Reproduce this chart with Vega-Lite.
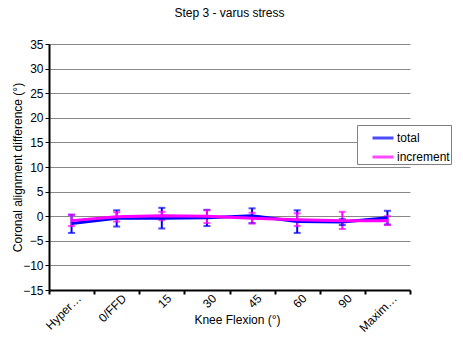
{
  "$schema": "https://vega.github.io/schema/vega-lite/v6.json",
  "width": 361,
  "height": 246,
  "autosize": {"type": "none"},
  "padding": {"left": 49, "top": 44, "right": 53, "bottom": 54},
  "background": "white",
  "title": {"text": "Step 3 - varus stress", "font": "Liberation Sans", "fontSize": 12, "fontWeight": "normal", "color": "#000000", "offset": 18, "anchor": "middle"},
  "config": {"view": {"stroke": null}, "font": "Liberation Sans"},
  "data": {"values": [
    {"cat": "Hyper…", "series": "total", "mean": -1.5, "lo": -3.4, "hi": 0.3},
    {"cat": "0/FFD", "series": "total", "mean": -0.4, "lo": -2.1, "hi": 1.2},
    {"cat": "15", "series": "total", "mean": -0.4, "lo": -2.5, "hi": 1.7},
    {"cat": "30", "series": "total", "mean": -0.3, "lo": -2.0, "hi": 1.3},
    {"cat": "45", "series": "total", "mean": 0.1, "lo": -1.4, "hi": 1.6},
    {"cat": "60", "series": "total", "mean": -1.1, "lo": -3.4, "hi": 1.2},
    {"cat": "90", "series": "total", "mean": -1.2, "lo": -1.8, "hi": -0.6},
    {"cat": "Maxim…", "series": "total", "mean": -0.3, "lo": -1.7, "hi": 1.1},
    {"cat": "Hyper…", "series": "increment", "mean": -0.9, "lo": -2.0, "hi": 0.3},
    {"cat": "0/FFD", "series": "increment", "mean": -0.1, "lo": -1.1, "hi": 0.8},
    {"cat": "15", "series": "increment", "mean": 0.1, "lo": -0.8, "hi": 0.9},
    {"cat": "30", "series": "increment", "mean": 0.0, "lo": -1.4, "hi": 1.2},
    {"cat": "45", "series": "increment", "mean": -0.4, "lo": -1.5, "hi": 0.7},
    {"cat": "60", "series": "increment", "mean": -0.7, "lo": -2.0, "hi": 0.6},
    {"cat": "90", "series": "increment", "mean": -0.9, "lo": -2.6, "hi": 0.9},
    {"cat": "Maxim…", "series": "increment", "mean": -0.9, "lo": -1.8, "hi": 0.0}
  ]},
  "encoding": {
    "x": {"field": "cat", "type": "nominal", "sort": null,
      "scale": {"paddingInner": 0, "paddingOuter": 0},
      "axis": {"title": "Knee Flexion (°)", "titleFontWeight": "normal", "titleFontSize": 12, "titleColor": "#000", "titleX": 188, "titleY": 24,
        "labelAngle": -45, "labelAlign": "right", "labelBaseline": "middle", "labelFontSize": 12, "labelColor": "#000", "labelPadding": 2, "labelOffset": 7, "labelOverlap": false,
        "tickBand": "extent", "tickColor": "#000", "tickWidth": 2, "tickSize": 4, "domainColor": "#000", "domainWidth": 2, "grid": false}},
    "color": {"field": "series", "type": "nominal",
      "scale": {"domain": ["total", "increment"], "range": ["#0000FF", "#FF00FF"]},
      "legend": {"title": null, "orient": "none", "legendX": 308, "legendY": 81, "strokeColor": "#808080", "fillColor": "white", "padding": 1,
        "symbolType": "stroke", "symbolSize": 441, "symbolStrokeWidth": 3, "symbolOffset": 13, "labelOffset": 2, "labelFontSize": 12, "labelColor": "#000", "rowPadding": 1, "labelLimit": 200}}
  },
  "layer": [
    {"mark": {"type": "rule", "strokeWidth": 2},
      "encoding": {"y": {"field": "lo", "type": "quantitative",
        "scale": {"domain": [-15, 35], "nice": false},
        "axis": {"values": [-15, -10, -5, 0, 5, 10, 15, 20, 25, 30, 35], "tickCount": 11, "labelOverlap": false, "title": "Coronal alignment difference (°)", "titleFontWeight": "normal", "titleFontSize": 12, "titleColor": "#000", "titleX": -25, "titleY": 123,
          "labelFontSize": 12, "labelColor": "#000", "labelPadding": 2, "grid": true, "gridColor": "#888", "gridWidth": 1, "domainColor": "#000", "domainWidth": 2, "tickColor": "#000", "tickSize": 4, "tickWidth": 1}},
        "y2": {"field": "hi"}}},
    {"mark": {"type": "tick", "thickness": 2, "size": 7}, "encoding": {"y": {"field": "lo", "type": "quantitative"}}},
    {"mark": {"type": "tick", "thickness": 2, "size": 7}, "encoding": {"y": {"field": "hi", "type": "quantitative"}}},
    {"transform": [{"filter": "datum.series == 'total'"}],
      "mark": {"type": "line", "strokeWidth": 3}, "encoding": {"y": {"field": "mean", "type": "quantitative"}}},
    {"transform": [{"filter": "datum.series == 'increment'"}],
      "mark": {"type": "line", "strokeWidth": 3}, "encoding": {"y": {"field": "mean", "type": "quantitative"}}}
  ]
}
